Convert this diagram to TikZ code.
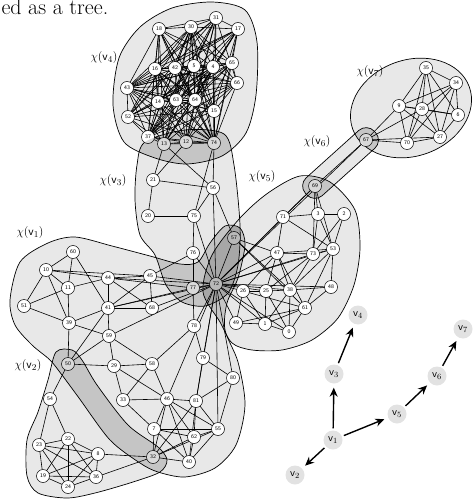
\documentclass[tikz,border=0pt]{standalone}
\usepackage{tikz}
\usetikzlibrary{arrows.meta, positioning}
\usepackage{amsmath,amssymb}
\definecolor{bagfill}{HTML}{E8E8E8}
\definecolor{treegray}{HTML}{E2E2E2}

% bags of the decomposition
\newcommand{\bagone}{plot[smooth cycle] coordinates {(10,300) (20,262) (48,243) (75,237) (112,246) (150,256) (180,264) (198,262) (210,243) (225,226) (240,228) (245,245) (238,278) (227,303) (225,330) (238,362) (245,405) (236,445) (215,468) (185,477) (158,472) (140,463) (110,440) (79,398) (62,375) (50,360) (32,345) (15,325)}}
\newcommand{\bagtwo}{plot[smooth cycle] coordinates {(56,352) (72,350) (82,360) (97,385) (128,425) (158,447) (167,460) (160,472) (133,482) (95,493) (67,498) (38,493) (27,476) (27,440) (38,412) (48,380)}}
\newcommand{\bagthree}{plot[smooth cycle] coordinates {(145,142) (185,130) (224,134) (234,165) (240,225) (238,265) (228,293) (205,306) (182,302) (166,285) (155,255) (140,235) (135,200) (137,165)}}
\newcommand{\bagfour}{plot[smooth cycle] coordinates {(113,105) (119,58) (140,27) (172,8) (212,2) (245,10) (257,42) (256,95) (246,133) (222,156) (187,164) (155,158) (124,142)}}
\newcommand{\bagfive}{plot[smooth cycle] coordinates {(203,292) (212,255) (240,218) (268,193) (300,176) (330,182) (355,210) (360,248) (354,285) (338,318) (312,340) (282,350) (252,350) (232,343) (220,322)}}
\newcommand{\bagsix}{[rounded corners=11bp, rotate around={42:(315,186)}] (303,174) rectangle (395.7,198)}
\newcommand{\bagseven}{[rotate around={20:(411,108)}] (411,108) ellipse [x radius=62bp, y radius=48bp]}

\begin{document}
\begin{tikzpicture}[x=1bp, y=-1bp,
    vtx/.style={circle, draw, fill=white, line width=0.5pt, inner sep=0pt,
                minimum size=13bp, font=\fontsize{5.5}{6}\selectfont\sffamily},
    link/.style={line width=0.6pt},
    bagline/.style={draw=black, line width=0.7pt},
    adh/.style={fill=black, fill opacity=0.15},
    tnode/.style={circle, fill=treegray, inner sep=0pt, minimum size=19bp,
                  font=\fontsize{11}{12}\selectfont},
    arr/.style={-{Stealth[length=9bp, width=8bp]}, line width=1.4pt,
                shorten >=4bp, shorten <=2bp},
    chi/.style={font=\fontsize{13}{15}\selectfont}
]
\useasboundingbox (0,0) rectangle (474,499);

% Bags
\foreach \b in {\bagone, \bagtwo, \bagthree, \bagfour, \bagfive}
  \fill[bagfill] \b;
\fill[bagfill] \bagsix;
\fill[bagfill] \bagseven;
\foreach \b in {\bagone, \bagtwo, \bagthree, \bagfour, \bagfive}
  \draw[bagline] \b;
\draw[bagline] \bagsix;
\draw[bagline] \bagseven;

% Vertices
\foreach \n/\x/\y in {18/159/29, 30/191/27, 31/216/18, 17/238/29, 16/155/69,
    42/175/68, 5/194/66, 4/213/67, 65/232/63, 66/237/83, 43/127/88,
    14/158/102, 63/176/100, 64/195/100, 15/214/111, 52/128/117, 37/148/137,
    13/164/144, 12/186/142, 74/214/143,
    21/153/180, 56/213/188, 20/148/216, 75/194/216, 76/193/253, 57/234/238,
    77/193/288, 72/216/284,
    69/315/186, 71/283/217, 3/318/214, 2/344/214, 47/277/253, 73/313/254,
    53/333/249, 26/243/291, 25/266/291, 38/290/290, 48/331/287, 61/305/308,
    49/236/323, 1/265/324, 0/289/332,
    67/366/140, 9/399/106, 35/426/68, 34/456/83, 28/422/109, 6/458/115,
    27/440/137, 70/407/143,
    60/73/252, 10/46/270, 11/68/288, 44/108/278, 45/150/276, 51/24/306,
    41/108/308, 68/152/308, 39/69/323, 59/109/336, 50/68/364, 29/114/366,
    58/152/364, 78/194/326, 79/203/358, 33/123/400, 46/167/399, 81/196/401,
    80/233/378, 7/154/429, 55/218/429, 62/194/437, 32/153/457, 40/189/462,
    54/50/399, 22/68/439, 23/39/445, 8/98/454, 19/43/476, 36/96/477, 24/68/487}
  \path (\x,\y) coordinate (p\n);

% Edges
\def\vfour{18,30,31,17,16,42,5,4,65,66,43,14,63,64,15,52,37,13,12,74}
\foreach \a [count=\i] in \vfour {
  \foreach \b [count=\j] in \vfour {
    \ifnum\j>\i
      \pgfmathtruncatemacro\k{mod(\i*\j+\i+\j,3)}
      \ifnum\k>0 \draw[link] (p\a) -- (p\b); \fi
    \fi
  }
}
\foreach \a/\b in {13/21, 12/21, 13/56, 74/56, 21/56, 21/20, 20/75, 56/75,
    75/76, 75/72, 76/77, 76/72, 56/72, 56/57, 57/72, 74/75,
    60/10, 60/11, 60/41, 10/11, 10/51, 10/39, 10/44, 10/45, 11/44, 11/39,
    51/11, 51/39, 44/45, 44/41, 44/68, 45/41, 45/68, 41/68, 41/39, 41/59,
    41/50, 39/59, 39/50, 59/29, 59/58, 59/50, 50/29, 29/58, 29/33, 29/46,
    58/33, 58/46, 58/78, 33/46, 33/7, 46/81, 46/7, 46/62, 46/40, 46/55,
    46/32, 81/62, 81/40, 81/55, 81/32, 81/80, 81/79, 79/80, 80/55, 7/55,
    7/62, 7/32, 7/40, 55/62, 55/32, 55/40, 62/40, 62/32, 32/40, 77/78,
    78/79, 44/77, 41/77, 44/72, 45/72, 41/72, 68/72, 59/72, 77/72, 72/78,
    72/79, 72/46, 72/81, 72/80, 72/55, 45/76,
    50/54, 54/23, 54/22, 22/23, 22/8, 22/19, 22/36, 22/24, 23/8, 23/19,
    23/36, 23/24, 8/19, 8/36, 8/24, 19/24, 19/36, 36/24, 8/32, 36/32,
    72/71, 71/69, 72/69, 69/67, 72/67, 69/3, 69/53, 69/73, 71/3, 71/53,
    71/47, 3/2, 3/73, 3/53, 2/53, 2/73, 47/73, 47/53, 73/53, 47/72, 57/47,
    47/26, 47/25, 47/38, 47/61, 73/38, 73/25, 53/48, 53/38, 53/61, 48/38,
    48/61, 72/26, 72/25, 72/38, 72/48, 72/53, 72/73, 26/25, 25/38, 26/49,
    26/1, 25/1, 25/0, 38/0, 38/1, 49/1, 1/0, 61/0, 61/1, 49/61, 26/61,
    57/38, 57/61, 72/49, 72/1, 72/0,
    67/9, 67/28, 67/70, 67/27, 9/35, 9/28, 9/34, 9/6, 9/70, 9/27, 35/28,
    35/34, 35/70, 35/27, 35/6, 34/28, 34/6, 34/27, 34/70, 28/6, 28/70,
    28/27, 6/27, 27/70}
  \draw[link] (p\a) -- (p\b);

\foreach \n/\x/\y in {18/159/29, 30/191/27, 31/216/18, 17/238/29, 16/155/69,
    42/175/68, 5/194/66, 4/213/67, 65/232/63, 66/237/83, 43/127/88,
    14/158/102, 63/176/100, 64/195/100, 15/214/111, 52/128/117, 37/148/137,
    13/164/144, 12/186/142, 74/214/143,
    21/153/180, 56/213/188, 20/148/216, 75/194/216, 76/193/253, 57/234/238,
    77/193/288, 72/216/284,
    69/315/186, 71/283/217, 3/318/214, 2/344/214, 47/277/253, 73/313/254,
    53/333/249, 26/243/291, 25/266/291, 38/290/290, 48/331/287, 61/305/308,
    49/236/323, 1/265/324, 0/289/332,
    67/366/140, 9/399/106, 35/426/68, 34/456/83, 28/422/109, 6/458/115,
    27/440/137, 70/407/143,
    60/73/252, 10/46/270, 11/68/288, 44/108/278, 45/150/276, 51/24/306,
    41/108/308, 68/152/308, 39/69/323, 59/109/336, 50/68/364, 29/114/366,
    58/152/364, 78/194/326, 79/203/358, 33/123/400, 46/167/399, 81/196/401,
    80/233/378, 7/154/429, 55/218/429, 62/194/437, 32/153/457, 40/189/462,
    54/50/399, 22/68/439, 23/39/445, 8/98/454, 19/43/476, 36/96/477, 24/68/487}
  \node[vtx] (n\n) at (p\n) {\n};

% Adhesion sets
\begin{scope}\clip \bagone; \fill[adh] \bagtwo; \end{scope}
\begin{scope}\clip \bagone; \fill[adh] \bagthree; \end{scope}
\begin{scope}\clip \bagthree; \fill[adh] \bagfour; \end{scope}
\begin{scope}\clip \bagone; \fill[adh] \bagfive; \end{scope}
\begin{scope}\clip \bagfive; \fill[adh] \bagsix; \end{scope}
\begin{scope}\clip \bagsix; \fill[adh] \bagseven; \end{scope}

% Bag labels
\node[chi] (c1) at (30,233) {$\chi(\mathsf{v}_1)$};
\node[chi] (c2) at (28,366) {$\chi(\mathsf{v}_2)$};
\node[chi] (c3) at (113,181) {$\chi(\mathsf{v}_3)$};
\node[chi] (c4) at (104,58) {$\chi(\mathsf{v}_4)$};
\node[chi] (c5) at (262,177) {$\chi(\mathsf{v}_5)$};
\node[chi] (c6) at (317,142) {$\chi(\mathsf{v}_6)$};
\node[chi] (c7) at (370,72) {$\chi(\mathsf{v}_7)$};

% Tree
\node[tnode] (t1) at (333,440) {$\mathsf{v}_1$};
\node[tnode] (t2) at (295,475) {$\mathsf{v}_2$};
\node[tnode] (t3) at (334,374) {$\mathsf{v}_3$};
\node[tnode] (t4) at (358,315) {$\mathsf{v}_4$};
\node[tnode] (t5) at (397,414) {$\mathsf{v}_5$};
\node[tnode] (t6) at (437,376) {$\mathsf{v}_6$};
\node[tnode] (t7) at (463,329) {$\mathsf{v}_7$};
\draw[arr] (t1) -- (t3);
\draw[arr] (t3) -- (t4);
\draw[arr] (t1) -- (t5);
\draw[arr] (t5) -- (t6);
\draw[arr] (t6) -- (t7);
\draw[arr] (t1) -- (t2);

\node[anchor=base west, font=\fontsize{22}{26}\selectfont] (title) at (-2,15) {ed as a tree.};
\end{tikzpicture}
\end{document}
